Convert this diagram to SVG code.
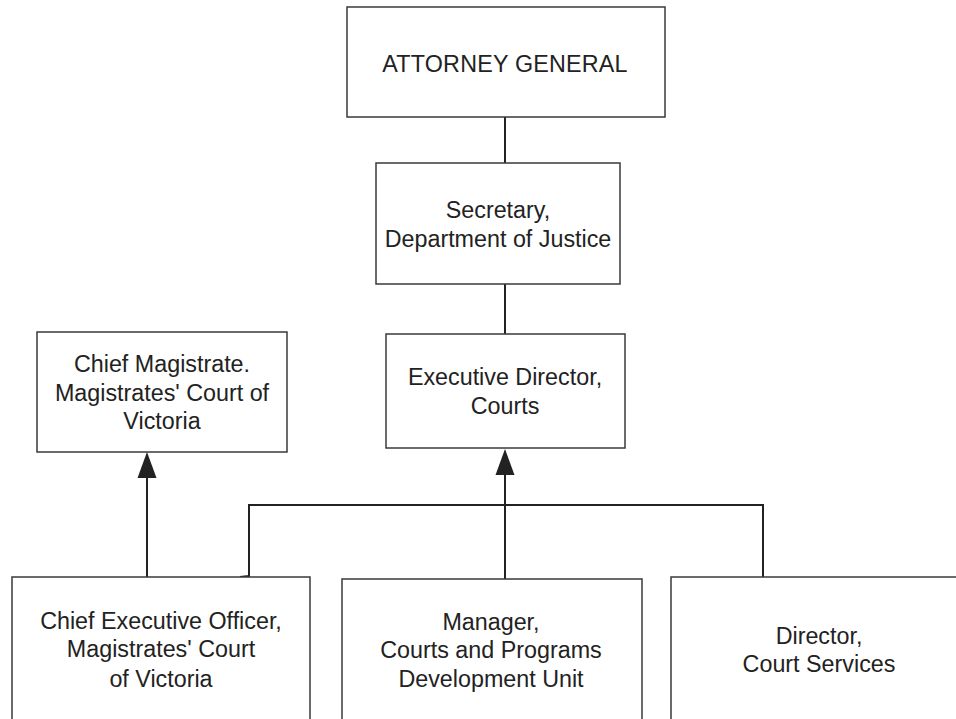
<svg xmlns="http://www.w3.org/2000/svg" width="956" height="719" viewBox="0 0 956 719">
<defs>
<style>
.box{fill:#fff;stroke:#3a3a3a;stroke-width:1.5}
.lbl{font-family:"Liberation Sans",Arial,sans-serif;font-size:23.3px;fill:#222;text-anchor:middle}
.con{fill:none;stroke:#222;stroke-width:2}
.head{fill:#222}
</style>
</defs>
<rect width="956" height="719" fill="#fff"/>
<g id="connectors">
<line class="con" x1="505" y1="117" x2="505" y2="163"/>
<line class="con" x1="505" y1="284" x2="505" y2="334"/>
<path class="con" d="M147,577 L147,478"/>
<path class="head" d="M147,452 L156.5,478 L137.5,478 Z"/>
<path class="con" d="M505,579 L505,474"/>
<path class="head" d="M505,449 L514.5,475 L495.5,475 Z"/>
<path class="con" d="M240,577 L249,576 L249,505 L763,505 L763,577"/>
</g>
<g id="attorney-general">
<rect class="box" x="347" y="7" width="318" height="110"/>
<text class="lbl" x="505" y="72" letter-spacing="0.2">ATTORNEY GENERAL</text>
</g>
<g id="secretary">
<rect class="box" x="376" y="163" width="244" height="121"/>
<text class="lbl" x="498" y="218">Secretary,</text>
<text class="lbl" x="498" y="247">Department of Justice</text>
</g>
<g id="executive-director">
<rect class="box" x="386" y="334" width="239" height="114"/>
<text class="lbl" x="505" y="385">Executive Director,</text>
<text class="lbl" x="505" y="414">Courts</text>
</g>
<g id="chief-magistrate">
<rect class="box" x="37" y="332" width="250" height="120"/>
<text class="lbl" x="162" y="372">Chief Magistrate.</text>
<text class="lbl" x="162" y="401">Magistrates' Court of</text>
<text class="lbl" x="162" y="429">Victoria</text>
</g>
<g id="ceo-magistrates-court">
<rect class="box" x="12" y="577" width="298" height="160"/>
<text class="lbl" x="161" y="629">Chief Executive Officer,</text>
<text class="lbl" x="161" y="657">Magistrates' Court</text>
<text class="lbl" x="161" y="687">of Victoria</text>
</g>
<g id="manager-courts-programs">
<rect class="box" x="342" y="579" width="300" height="160"/>
<text class="lbl" x="491" y="630">Manager,</text>
<text class="lbl" x="491" y="658">Courts and Programs</text>
<text class="lbl" x="491" y="687">Development Unit</text>
</g>
<g id="director-court-services">
<rect class="box" x="671" y="577" width="298" height="160"/>
<text class="lbl" x="819" y="644">Director,</text>
<text class="lbl" x="819" y="672">Court Services</text>
</g>
</svg>
